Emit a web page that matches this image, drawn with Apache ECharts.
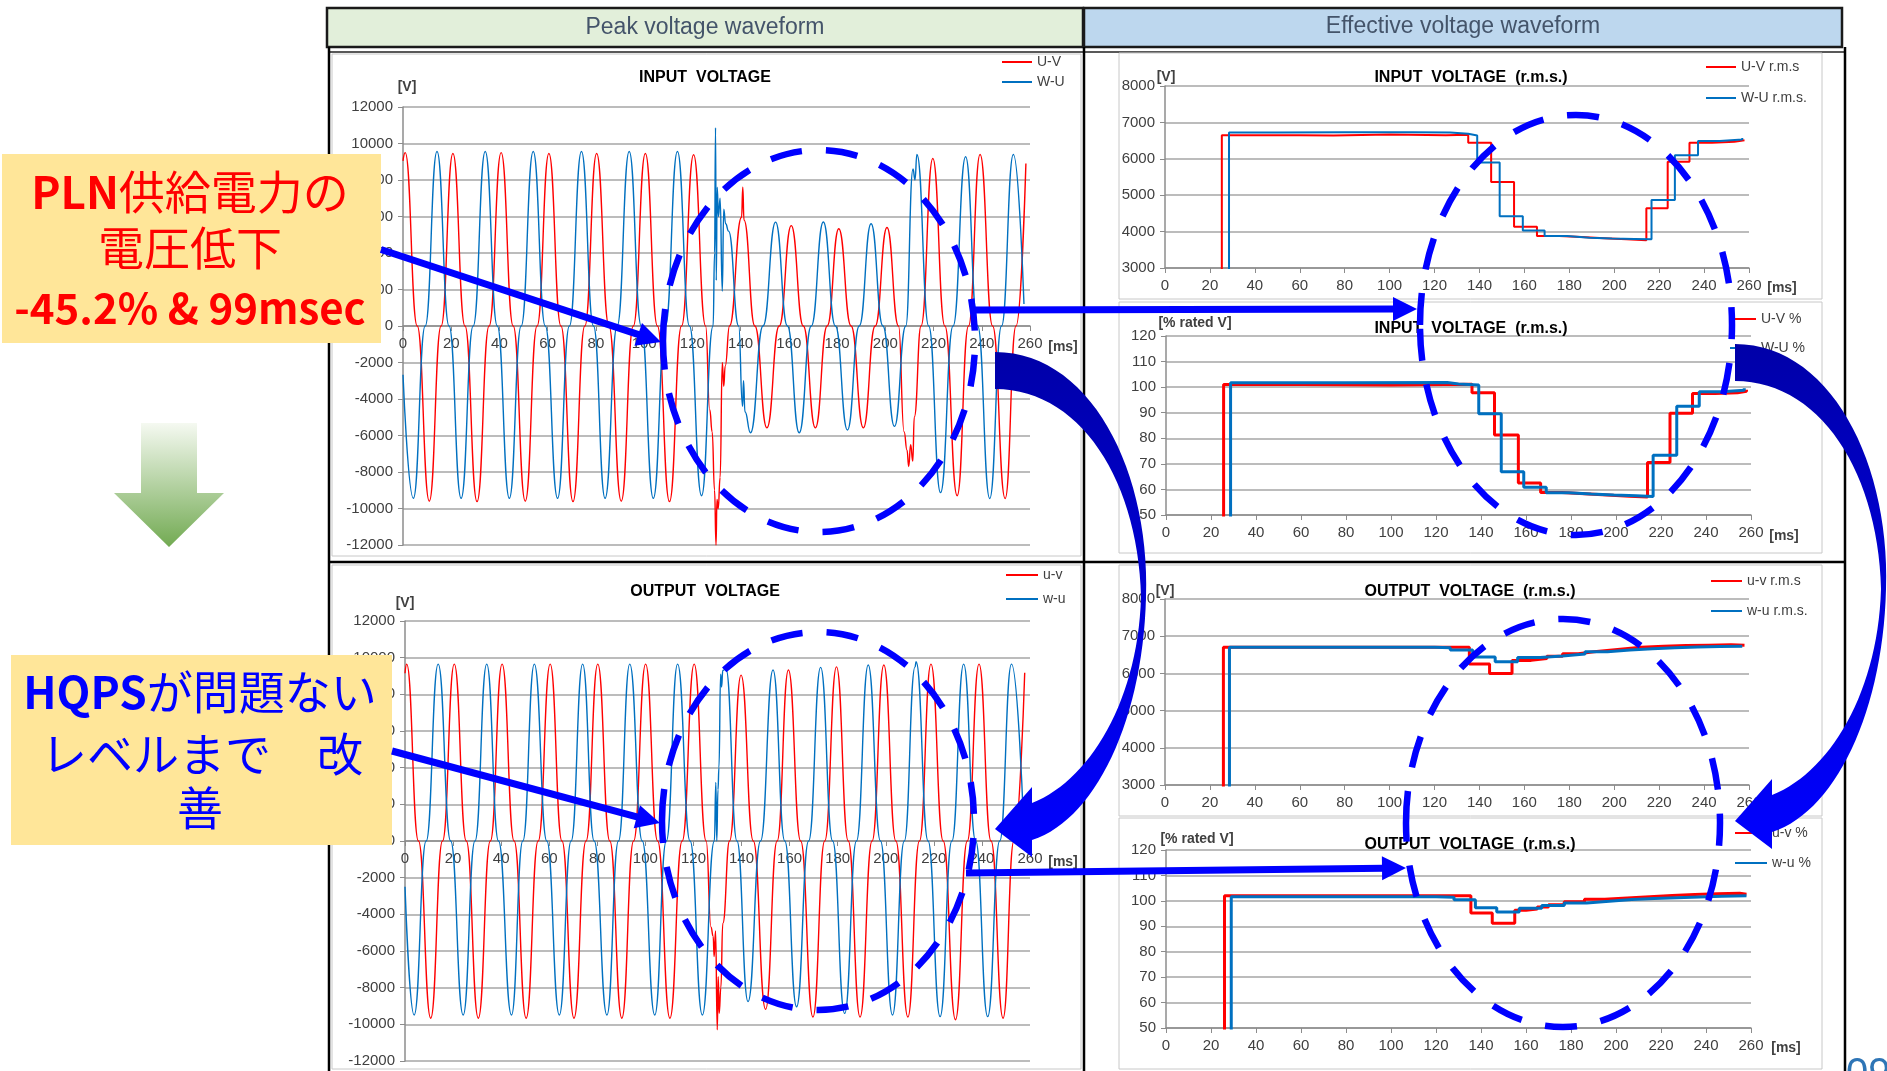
<!DOCTYPE html>
<html><head><meta charset="utf-8">
<script src="https://cdn.jsdelivr.net/npm/echarts@6/dist/echarts.min.js"></script>
<style>html,body{margin:0;padding:0;background:#fff;}#c{width:1887px;height:1071px;}</style>
</head><body><div id="c"></div>
<script>
// ---------------- DATA ----------------
const msTicks = [0,20,40,60,80,100,120,140,160,180,200,220,240,260];

// INPUT VOLTAGE (peak waveform) U-V
const uvInT = [0,0.9,5.9,10.9,15.8,20.7,25.7,30.7,35.7,40.7,45.7,50.7,55.6,60.5,65.5,70.5,75.4,80.3,85.4,90.5,95.5,100.5,105.5,110.5,115.5,120.5,125.5,127.2,128.2,129.2,129.8,130.2,130.7,131.5,132.4,133,133.6,135.4,140.4,140.9,141.4,145.9,150.9,156,161,166,171,175.9,180.7,185.8,190.9,195.8,200.7,205.5,207.8,209,209.7,210.5,211.4,212,214.8,219.7,224.7,229.8,234.5,239.3,244.5,249.7,254.2,258.3];
const uvInV = [9050,9500,0,-9600,0,9450,0,-9620,0,9500,0,-9600,0,9450,0,-9620,0,9450,0,-9600,0,9450,0,-9620,0,9380,0,-4580,-5800,-9000,-12000,-9500,-10000,-8300,-2000,-3300,-2200,0,5960,7600,5800,0,-5580,0,5500,0,-5580,0,5330,0,-5580,0,5400,0,-5800,-6800,-7700,-6500,-7400,-5000,0,9180,0,-9300,0,9400,0,-9450,0,8900];
// INPUT VOLTAGE W-U
const wuInT = [0,4.3,9.2,14.1,19.1,24.1,29.1,34.1,39.1,44.1,49,54,59,64.1,69,74,79,83.8,88.8,93.8,98.8,103.8,108.8,113.8,118.8,123.8,128.6,129.2,129.6,129.9,130.3,130.8,131.5,132.4,133,133.8,135,139.2,140.8,141.2,141.8,144.1,149.3,154.5,159.4,164.3,169.3,174.3,179.3,184.3,189.2,194.1,199,203.8,208.5,211.5,212.3,213.1,218,222.9,228.1,233.3,238.3,243.3,248.2,253.1,257.5];
const wuInV = [-2670,-9440,0,9560,0,-9440,0,9560,0,-9440,0,9560,0,-9440,0,9560,0,-9440,0,9560,0,-9440,0,9560,0,-9300,0,4000,10870,2500,7600,6000,7000,1900,6400,5600,5200,0,-4400,-3000,-4700,-5850,0,5690,0,-5850,0,5700,0,-5700,0,5600,0,-5500,0,8600,8000,9400,0,-9130,0,9270,0,-9450,0,9400,1200];

// OUTPUT VOLTAGE u-v
const uvOutT = [0,0.7,5.6,10.7,15.6,20.5,25.5,30.5,35.5,40.4,45.4,50.4,55.4,60.4,65.3,70.3,75.3,80.2,85.2,90.2,95.1,100.1,105.1,110.2,115.3,120.3,125.3,127.3,128.2,128.6,129.2,129.9,130.3,130.7,131.4,132.2,135,139.8,144.9,150,154.8,159.5,164.6,169.7,174.6,179.5,184.4,189.3,194.3,199.2,204.2,209.2,214,218.8,223.9,229,233.9,238.8,243.8,248.8,253.3,257.8];
const uvOutV = [9150,9650,0,-9670,0,9650,0,-9670,0,9650,0,-9670,0,9650,0,-9670,0,9650,0,-9670,0,9650,0,-9670,0,9650,0,-4700,-5200,-6300,-4900,-10300,-7400,-9400,-8000,-4500,0,9050,0,-9180,0,9330,0,-9600,0,9500,0,-9600,0,9600,0,-9600,0,9650,0,-9750,0,9650,0,-9670,0,9180];
// OUTPUT VOLTAGE w-u
const wuOutT = [0,3.8,8.8,13.8,19,24.2,29.1,34,38.9,44.3,49,53.8,59,64.2,69.1,73.9,78.7,84,88.8,93.5,98.7,103.9,108.7,113.4,118.6,123.7,128.7,129.3,129.7,130.2,130.6,131.3,131.7,132.2,133.5,138.1,142.7,147.9,153.1,158,162.9,167.9,172.9,177.9,182.9,187.8,192.7,197.8,202.8,207.7,212.2,212.6,217.6,222.6,227.5,232.4,237.4,242.4,247.4,252.3,257.3];
const wuOutV = [-2500,-9490,0,9650,0,-9490,0,9650,0,-9490,0,9650,0,-9490,0,9650,0,-9490,0,9650,0,-9490,0,9650,0,-9490,0,3200,0,2800,4000,9100,8400,9300,9400,0,-8760,0,9330,0,-9040,0,9470,0,-9400,0,9600,0,-9490,0,9500,9780,0,-9580,0,9650,0,-9580,0,9650,1000];

// INPUT VOLTAGE (r.m.s.) [V]
const uvInRmsT = [25.3,25.3,60,75,100,125,135,145.2,155.4,165.6,175.5,185.5,195.5,205.5,214.3,223.8,233.5,243.5,253.5,258];
const uvInRmsV = [0,6650,6640,6670,6650,6660,6440,5360,4130,3880,3850,3820,3790,3760,4640,5920,6440,6470,6510,6520];
const wuInRmsT = [28.5,28.5,50,80,110,127,135,139,149,159.3,169,179,189,199,209,216.6,227,237.3,247,257];
const wuInRmsV = [0,6720,6730,6730,6720,6690,6640,5900,4420,4030,3880,3830,3810,3800,3790,4870,6100,6490,6530,6570];

// INPUT VOLTAGE (r.m.s.) [% rated V]
const uvInPctT = [25.6,25.6,60,100,136,146,156.6,166.5,176,186,196,206,214,224,234,244,254,258];
const uvInPctV = [0,101,100.8,101.1,97.8,81.3,62.5,58.8,58.3,57.8,57.3,57.0,70.5,89.8,97.5,97.8,98.4,99];
const wuInPctT = [28.7,28.7,80,125,130,139,149,159,169,179,189,199,209,216.5,227,237,247,257];
const wuInPctV = [0,101.7,101.8,101.2,100.8,89.6,66.9,60.9,58.7,58.2,57.8,57.5,57.2,73.4,92.5,98.2,98.8,99.6];

// OUTPUT VOLTAGE (r.m.s.) [V]
const uvOutRmsT = [26,26,135.5,144.5,154.5,163,170,177,184,191,198,205,212,222,232,242,252,258];
const uvOutRmsV = [0,6700,6250,6000,6350,6400,6460,6530,6580,6620,6660,6700,6730,6750,6760,6770,6760,6760];
const wuOutRmsT = [28.7,28.7,120,127,137,147,157,167,177,187,197,207,217,227,237,247,257];
const wuOutRmsV = [0,6700,6690,6630,6440,6310,6430,6470,6520,6580,6630,6660,6690,6710,6720,6730,6730];

// OUTPUT VOLTAGE (r.m.s.) [% rated V]
const uvOutPctT = [26,26,135.5,145,155,160,165,170,177,186,195,205,215,225,235,245,255,258];
const uvOutPctV = [0,102,95.2,91.2,96.3,96.8,97.6,98.5,99.6,100.6,101.1,101.6,102.1,102.5,102.8,103,102.6,102.6];
const wuOutPctT = [29,29,120,128,137.5,147,157,167,177,187,197,207,217,227,237,247,258];
const wuOutPctV = [0,101.6,101.4,100.4,97.3,95.6,97.1,98.2,99.2,99.8,100.5,100.9,101.2,101.5,101.8,102,102];

// ---------------- CHART ----------------
const FONT = "'Liberation Sans Narrow','Liberation Sans',Arial,sans-serif";
const JP = "'Noto Sans CJK JP','Noto Sans',sans-serif";
const RED = '#ff0000', BLUE = '#0070c0', AX = '#8c8c8c', TXT = '#404040', GRIDC = '#a6a6a6';
const zip = (t, v) => t.map((x, i) => [x, v[i]]);

const grids = [
  {left:403, top:107, width:627, height:438},
  {left:405, top:621, width:625, height:440},
  {left:1165, top:86, width:584, height:182},
  {left:1166, top:336, width:585, height:179},
  {left:1165, top:599, width:584, height:186},
  {left:1166, top:850, width:585, height:178},
  // upper halves of the waveform plots: their bottom edge is the 0 V line, carrying the time axis
  {left:403, top:107, width:627, height:219},
  {left:405, top:621, width:625, height:220}
];

function xAx(gi, show){
  return {gridIndex:gi, type:'value', show:show, min:msTicks[0], max:msTicks[msTicks.length-1], interval:20,
    axisLine:{show:true, onZero:false, lineStyle:{color:AX, width:1.5}},
    axisTick:{show:true, length:5, lineStyle:{color:AX}},
    axisLabel:{color:TXT, fontSize:15, fontFamily:FONT, margin:10, formatter:v=>String(v)},
    splitLine:{show:false}};
}
function yAx(gi, min, max, step){
  return {gridIndex:gi, type:'value', min:min, max:max, interval:step,
    axisLine:{show:true, onZero:false, lineStyle:{color:AX, width:1.5}},
    axisTick:{show:true, length:5, lineStyle:{color:AX}},
    axisLabel:{color:TXT, fontSize:15, fontFamily:FONT, margin:10, formatter:v=>String(v)},
    splitLine:{show:true, lineStyle:{color:GRIDC, width:1.5}}};
}
function wave(name, gi, t, v, color){
  return {type:'line', name:name, xAxisIndex:gi, yAxisIndex:gi, data:zip(t, v), smooth:0.5, smoothMonotone:'x',
    symbol:'none', lineStyle:{color:color, width:1.4}, itemStyle:{color:color}, silent:true, z:3};
}
function stepS(name, gi, t, v, color, w){
  return {type:'line', name:name, xAxisIndex:gi, yAxisIndex:gi, data:zip(t, v), step:'end',
    symbol:'none', lineStyle:{color:color, width:w}, itemStyle:{color:color}, silent:true, z:3};
}
function leg(names, left, top, gap, w){
  return {data:names, orient:'vertical', left:left, top:top, itemWidth:w, itemHeight:14, itemGap:gap,
    selectedMode:false, itemStyle:{opacity:0, borderWidth:0},
    textStyle:{color:TXT, fontSize:14, fontFamily:FONT}, padding:0};
}

// ---------- graphics ----------
const G = [];
function rect(x,y,w,h,fill,stroke,lw,z){ G.push({type:'rect', shape:{x,y,width:w,height:h}, style:{fill:fill, stroke:stroke, lineWidth:lw}, z:z||1, silent:true}); }
function line(x1,y1,x2,y2,stroke,lw,z){ G.push({type:'line', shape:{x1,y1,x2,y2}, style:{stroke:stroke, lineWidth:lw}, z:z||1, silent:true}); }
function text(x,y,s,opt){ G.push({type:'text', x:x, y:y, z:(opt.z||5), silent:true, style:Object.assign({text:s, align:'center', verticalAlign:'middle', fill:TXT, font:opt.font}, opt.style||{})}); }

// header boxes
rect(327,8,756,39,'#e2efda','#1a1a1a',2.5);
rect(1084,8,758,39,'#bdd7ee','#1a1a1a',2.5);
text(705,28,'Peak voltage waveform',{font:"23px "+FONT, style:{fill:'#44546a'}});
text(1463,27,'Effective voltage waveform',{font:"23px "+FONT, style:{fill:'#44546a'}});
// table lines
line(329,52,1845,52,'#222',1.5);
line(329,47,329,1071,'#000',2.5);
line(1084,47,1084,1071,'#000',2.5);
line(1845,47,1845,1071,'#000',2.5);
line(329,562,1845,562,'#000',2.5);
// chart borders
rect(332,54,749,502,'none','#c8c8c8',1);
rect(332,565,749,504,'none','#c8c8c8',1);
rect(1119,53,703,246,'none','#c8c8c8',1);
rect(1119,302,703,251,'none','#c8c8c8',1);
rect(1119,565,703,251,'none','#c8c8c8',1);
rect(1119,818,703,251,'none','#c8c8c8',1);
// chart titles / units
const TB = "bold 16px "+FONT;
text(705,78,'INPUT  VOLTAGE',{font:TB, style:{fill:'#000'}});
text(705,592,'OUTPUT  VOLTAGE',{font:TB, style:{fill:'#000'}});
text(1471,78,'INPUT  VOLTAGE  (r.m.s.)',{font:TB, style:{fill:'#000'}});
text(1471,329,'INPUT  VOLTAGE  (r.m.s.)',{font:TB, style:{fill:'#000'}});
text(1470,592,'OUTPUT  VOLTAGE  (r.m.s.)',{font:TB, style:{fill:'#000'}});
text(1470,845,'OUTPUT  VOLTAGE  (r.m.s.)',{font:TB, style:{fill:'#000'}});
const UB = "bold 14px "+FONT;
text(407,87,'[V]',{font:UB});
text(405,603,'[V]',{font:UB});
text(1166,77,'[V]',{font:UB});
text(1195,323,'[% rated V]',{font:UB});
text(1165,591,'[V]',{font:UB});
text(1197,839,'[% rated V]',{font:UB});
text(1063,347,'[ms]',{font:UB});
text(1063,862,'[ms]',{font:UB});
text(1782,288,'[ms]',{font:UB});
text(1784,536,'[ms]',{font:UB});
text(1782,805,'[ms]',{font:UB});
text(1786,1048,'[ms]',{font:UB});

// left annotation boxes
rect(2,154,379,189,'#ffe699','none',0,50);
G.push({type:'text', x:190, y:192, z:51, silent:true, style:{text:'{b|PLN}{r|供給電力の}', align:'center', verticalAlign:'middle',
  rich:{b:{fontFamily:JP, fontWeight:'bold', fontSize:44, fill:RED, color:RED}, r:{fontFamily:JP, fontWeight:'normal', fontSize:46, fill:RED, color:RED}}}});
text(190,248,'電圧低下',{z:51, font:"46px "+JP, style:{fill:RED}});
text(190,308,'-45.2% & 99msec',{z:51, font:"bold 42px "+JP, style:{fill:RED}});
rect(11,655,381,190,'#ffe699','none',0,50);
G.push({type:'text', x:200, y:692, z:51, silent:true, style:{text:'{b|HQPS}{r|が問題ない}', align:'center', verticalAlign:'middle',
  rich:{b:{fontFamily:JP, fontWeight:'bold', fontSize:44, fill:'#0000ff', color:'#0000ff'}, r:{fontFamily:JP, fontWeight:'normal', fontSize:46, fill:'#0000ff', color:'#0000ff'}}}});
text(202,754,'レベルまで　改',{z:51, font:"46px "+JP, style:{fill:'#0000ff'}});
text(200,808,'善',{z:51, font:"46px "+JP, style:{fill:'#0000ff'}});

// green down arrow
G.push({type:'polygon', z:50, silent:true, shape:{points:[[141,423],[197,423],[197,493],[224,493],[169,547],[114,493],[141,493]]},
  style:{fill:new echarts.graphic.LinearGradient(0,0,0,1,[{offset:0,color:'#f5f9f1'},{offset:1,color:'#72aa52'}])}});

// dashed ellipses
function ell(cx,cy,rx,ry){ G.push({type:'ellipse', z:60, silent:true, shape:{cx,cy,rx,ry}, style:{fill:'none', stroke:'#0000ff', lineWidth:6.5, lineDash:[32,24]}}); }
ell(819,341,156,191);
ell(1576,325,156,210);
ell(818,821,156,189);
ell(1563,823,157,204);

// straight arrows
function arrow(x1,y1,x2,y2){
  const dx=x2-x1, dy=y2-y1, L=Math.hypot(dx,dy), ux=dx/L, uy=dy/L, hl=24, hw=12;
  const bx=x2-ux*hl, by=y2-uy*hl;
  line(x1,y1,bx+ux*2,by+uy*2,'#0000ff',7,60);
  G.push({type:'polygon', z:60, silent:true, shape:{points:[[x2,y2],[bx-uy*hw,by+ux*hw],[bx+uy*hw,by-ux*hw]]}, style:{fill:'#0000ff'}});
}
arrow(381,249.5,661,342);
arrow(972,310,1417,309);
arrow(392,751,660,823);
arrow(966,873,1406,868);

// curved arrows
function bez(p0,p1,p2,p3,n){ const r=[]; for(let i=0;i<=n;i++){const t=i/n,u=1-t;
  r.push([u*u*u*p0[0]+3*u*u*t*p1[0]+3*u*t*t*p2[0]+t*t*t*p3[0], u*u*u*p0[1]+3*u*u*t*p1[1]+3*u*t*t*p2[1]+t*t*t*p3[1]]);} return r; }
function curved(dx,dy){
  const pts=[].concat(
    bez([995,352],[1090,352],[1150,470],[1146,597],30),
    bez([1146,597],[1143,720],[1095,820],[1032,840],30),
    [[1032,857],[995,829],[1032,787],[1032,803]],
    bez([1032,803],[1090,780],[1138,700],[1141,597],30),
    bez([1141,597],[1138,480],[1080,389],[995,389],30)
  ).map(p=>[p[0]+dx,p[1]+dy]);
  G.push({type:'polygon', z:61, silent:true, shape:{points:pts},
    style:{fill:new echarts.graphic.LinearGradient(0,0,0,1,[{offset:0,color:'#0000a8'},{offset:0.5,color:'#0000d8'},{offset:1,color:'#0000ff'}])}});
}
curved(0,0);
curved(740,-8);

// page number (cut off)
G.push({type:'text', x:1846, y:1055, z:5, silent:true, style:{text:'09', fill:'#2e75b6', font:"40px 'Liberation Sans',sans-serif", align:'left', verticalAlign:'top'}});

const hiddenY = gi => ({gridIndex:gi, type:'value', show:false, min:0, max:1, splitLine:{show:false}});

const option = {
  animation:false,
  backgroundColor:'#ffffff',
  grid:grids,
  xAxis:[xAx(0,false),xAx(1,false),xAx(2,true),xAx(3,true),xAx(4,true),xAx(5,true),xAx(6,true),xAx(7,true)],
  yAxis:[yAx(0,-12000,12000,2000),yAx(1,-12000,12000,2000),yAx(2,3000,8000,1000),yAx(3,50,120,10),yAx(4,3000,8000,1000),yAx(5,50,120,10),hiddenY(6),hiddenY(7)],
  legend:[
    leg(['U-V','W-U'],1001,55,6,30),
    leg(['u-v','w-u'],1005,568,10,32),
    leg(['U-V r.m.s','W-U r.m.s.'],1705,60,17,30),
    leg(['U-V %','W-U %'],1729,312,15,26),
    leg(['u-v r.m.s','w-u r.m.s.'],1710,574,16,31),
    leg(['u-v %','w-u %'],1734,826,16,32)
  ],
  series:[
    wave('U-V',0,uvInT,uvInV,RED),
    wave('W-U',0,wuInT,wuInV,BLUE),
    wave('u-v',1,uvOutT,uvOutV,RED),
    wave('w-u',1,wuOutT,wuOutV,BLUE),
    stepS('U-V r.m.s',2,uvInRmsT,uvInRmsV,RED,2),
    stepS('W-U r.m.s.',2,wuInRmsT,wuInRmsV,BLUE,2),
    stepS('U-V %',3,uvInPctT,uvInPctV,RED,3),
    stepS('W-U %',3,wuInPctT,wuInPctV,BLUE,3),
    stepS('u-v r.m.s',4,uvOutRmsT,uvOutRmsV,RED,3),
    stepS('w-u r.m.s.',4,wuOutRmsT,wuOutRmsV,BLUE,3),
    stepS('u-v %',5,uvOutPctT,uvOutPctV,RED,3),
    stepS('w-u %',5,wuOutPctT,wuOutPctV,BLUE,3)
  ],
  graphic:{elements:G}
};
const chart = echarts.init(document.getElementById('c'), null, {renderer:'canvas'});
chart.setOption(option);
</script>
</body></html>
